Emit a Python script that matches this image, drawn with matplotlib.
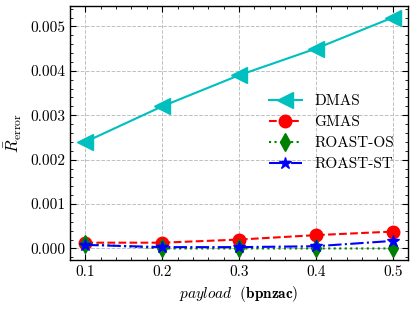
import matplotlib
matplotlib.use("Agg")
import matplotlib.pyplot as plt
from matplotlib.ticker import AutoMinorLocator

# payload values and errors
payload = [0.1, 0.2, 0.3, 0.4, 0.5]
dmas = [0.0024, 0.0032, 0.0039, 0.0045, 0.0052]
gmas = [0.00013, 0.00013, 0.00020, 0.00030, 0.00038]
roast_os = [0.00010, 0.0, 0.0, 0.0, 0.0]
roast_st = [0.00008, 0.00003, 0.00003, 0.00005, 0.00017]

plt.rcParams['font.family'] = 'serif'
plt.rcParams['font.serif'] = ['cmr10', 'DejaVu Serif']
plt.rcParams['mathtext.fontset'] = 'cm'
plt.rcParams['axes.formatter.use_mathtext'] = True
plt.rcParams['axes.unicode_minus'] = False

fig = plt.figure(figsize=(4.15, 3.09), dpi=100)
ax = fig.add_axes([70 / 415, 49 / 309, 338 / 415, 254 / 309])

ax.plot(payload, dmas, color='c', marker='<', markersize=11, lw=1.5, label='DMAS')
ax.plot(payload, gmas, color='r', marker='o', markersize=9, lw=1.5, ls='--', label='GMAS')
ax.plot(payload, roast_os, color='g', marker='d', markersize=9, lw=1.5, ls=':', label='ROAST-OS')
ax.plot(payload, roast_st, color='b', marker='*', markersize=9, lw=1.5, ls='-.', label='ROAST-ST')

ax.set_xticks(payload)
ax.set_yticks([0.000, 0.001, 0.002, 0.003, 0.004, 0.005])
ax.set_yticklabels(['0.000', '0.001', '0.002', '0.003', '0.004', '0.005'])
ax.set_xticklabels(['0.1', '0.2', '0.3', '0.4', '0.5'])
ax.xaxis.set_minor_locator(AutoMinorLocator(5))
ax.yaxis.set_minor_locator(AutoMinorLocator(5))
ax.tick_params(which='both', direction='in', top=True, right=True, labelsize=11)
ax.tick_params(which='major', length=4)
ax.tick_params(which='minor', length=2)
for s in ax.spines.values():
    s.set_linewidth(1.0)

ax.grid(True, ls='--', color='#c0c0c0', lw=0.7)
ax.set_xlabel(r'$payload\ \ (\mathbf{bpnzac})$', fontsize=11)
ax.set_ylabel(r'$\bar{R}_{\mathrm{error}}$', fontsize=12)
ax.legend(loc='center right', frameon=False, fontsize=11, bbox_to_anchor=(1.0, 0.5),
          handlelength=2.2, labelspacing=0.48)

fig.savefig('out.png', dpi=100)
